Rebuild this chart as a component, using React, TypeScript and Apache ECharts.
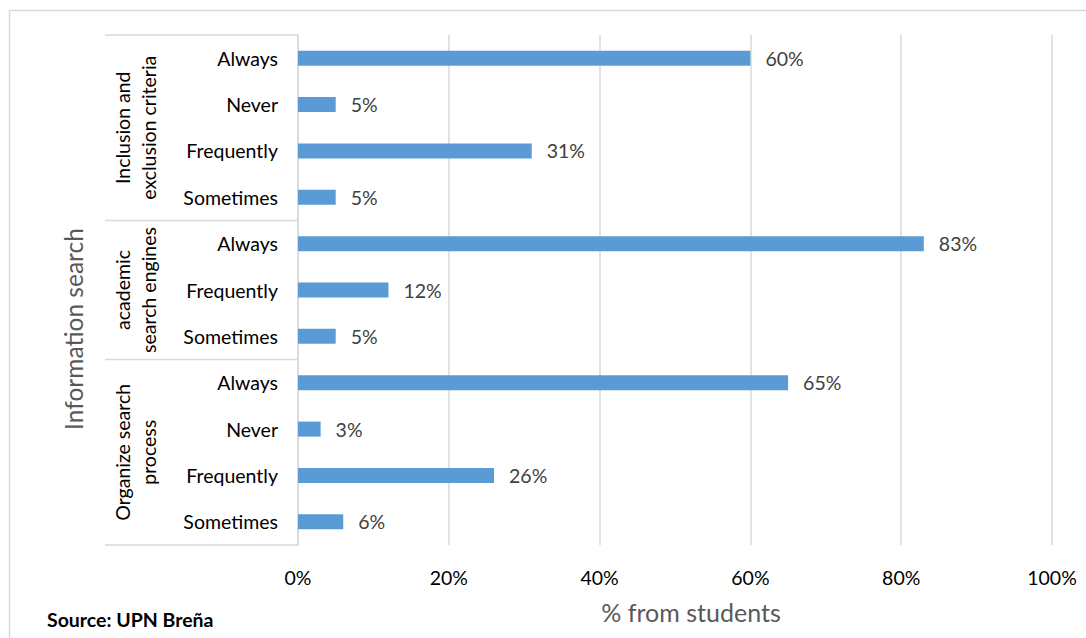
import React, { useEffect, useRef } from "react";
import * as echarts from "echarts";

const categories = [
  "Always", "Never", "Frequently", "Sometimes",
  "Always", "Frequently", "Sometimes",
  "Always", "Never", "Frequently", "Sometimes",
];
const values = [60, 5, 31, 5, 83, 12, 5, 65, 3, 26, 6];
const groups = [
  { label: "Inclusion and\nexclusion criteria", count: 4 },
  { label: "academic\nsearch engines", count: 3 },
  { label: "Organize search\nprocess", count: 4 },
];
const xTicks = [0, 20, 40, 60, 80, 100];
const xTitle = "% from students";
const yTitle = "Information search";
const source = "Source: UPN Breña";

const FONT = "Lato, 'Open Sans', sans-serif";
const W = 1086;
const H = 638;
const GRID_LEFT = 298;
const GRID_RIGHT = 34;
const GRID_TOP = 35;
const GRID_BOTTOM = 93;

export default function App() {
  const ref = useRef<HTMLDivElement>(null);
  useEffect(() => {
    if (!ref.current) return;
    const chart = echarts.init(ref.current, null, { renderer: "svg" });
    const plotH = H - GRID_TOP - GRID_BOTTOM;
    const band = plotH / categories.length;
    const graphics: any[] = [
      {
        type: "rect",
        shape: { x: 9.5, y: 10.5, width: W, height: H },
        style: { fill: "none", stroke: "#D9D9D9", lineWidth: 1.5 },
        silent: true,
      },
    ];
    let idx = 0;
    const lineX1 = 105;
    graphics.push({
      type: "line",
      shape: { x1: lineX1, y1: GRID_TOP, x2: GRID_LEFT, y2: GRID_TOP },
      style: { stroke: "#D9D9D9", lineWidth: 1.5 },
    });
    groups.forEach((g) => {
      const y0 = GRID_TOP + idx * band;
      idx += g.count;
      const y1 = GRID_TOP + idx * band;
      graphics.push({
        type: "line",
        shape: { x1: lineX1, y1: y1, x2: GRID_LEFT, y2: y1 },
        style: { stroke: "#D9D9D9", lineWidth: 1.5 },
      });
      graphics.push({
        type: "text",
        x: 135,
        y: (y0 + y1) / 2,
        rotation: Math.PI / 2,
        style: {
          text: g.label,
          fill: "#000",
          font: `19.5px ${FONT}`,
          align: "center",
          verticalAlign: "middle",
          lineHeight: 26,
        },
      });
    });
    graphics.push({
      type: "text",
      x: 73,
      y: 329,
      rotation: Math.PI / 2,
      style: {
        text: yTitle,
        fill: "#595959",
        font: `24.5px ${FONT}`,
        align: "center",
        verticalAlign: "middle",
      },
    });
    graphics.push({
      type: "text",
      x: 691,
      y: 612,
      style: {
        text: xTitle,
        fill: "#595959",
        font: `25px ${FONT}`,
        align: "center",
        verticalAlign: "middle",
      },
    });
    graphics.push({
      type: "text",
      x: 47,
      y: 619,
      style: {
        text: source,
        fill: "#000",
        font: `bold 19.5px ${FONT}`,
        align: "left",
        verticalAlign: "middle",
      },
    });

    chart.setOption({
      animation: false,
      grid: { left: GRID_LEFT, right: GRID_RIGHT, top: GRID_TOP, bottom: GRID_BOTTOM, containLabel: false },
      xAxis: {
        type: "value",
        min: xTicks[0],
        max: xTicks[xTicks.length - 1],
        interval: 20,
        axisLabel: { formatter: "{value}%", color: "#000", fontSize: 19.5, fontFamily: FONT, margin: 22 },
        splitLine: { show: true, lineStyle: { color: "#D9D9D9", width: 1.5 } },
        axisLine: { show: false },
        axisTick: { show: false },
      },
      yAxis: {
        type: "category",
        inverse: true,
        data: categories,
        axisLine: { show: true, lineStyle: { color: "#D9D9D9", width: 1.5 } },
        axisTick: { show: false },
        axisLabel: { color: "#000", fontSize: 19.5, fontFamily: FONT, margin: 20 },
      },
      series: [
        {
          type: "bar",
          data: values,
          barWidth: 15,
          itemStyle: { color: "#5B9BD5" },
          label: {
            show: true,
            position: "right",
            distance: 15,
            formatter: "{c}%",
            color: "#404040",
            fontSize: 19.5,
            fontFamily: FONT,
          },
        },
      ],
      graphic: graphics,
    });
    return () => chart.dispose();
  }, []);
  return (
    <div
      ref={ref}
      style={{ position: "absolute", left: 0, top: 0, width: W, height: H, background: "#fff" }}
    />
  );
}
